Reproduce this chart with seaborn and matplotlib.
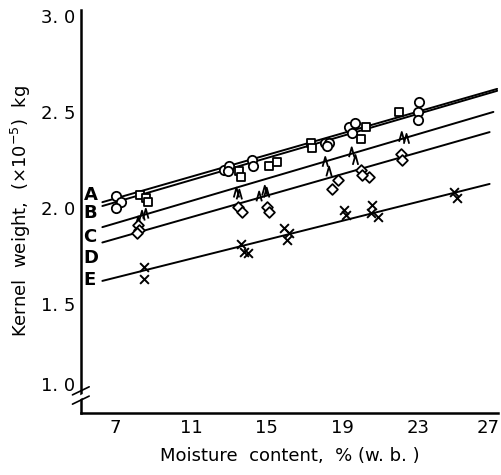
import numpy as np
import pandas as pd
import matplotlib
matplotlib.use('Agg')
import matplotlib.pyplot as plt
import matplotlib.transforms as mtransforms
import seaborn as sns

# ------------------------------------------------------------
# Data
# ------------------------------------------------------------
series_names = ["A", "B", "C", "D", "E"]

# A: circles
a_x = [7.0, 7.3, 7.0, 12.75, 13.0, 12.95, 14.2, 14.3, 18.1, 18.3, 18.2, 19.35, 19.65, 19.5, 23.05, 23.0, 23.0]
a_y = [2.06, 2.03, 2.00, 2.20, 2.22, 2.19, 2.25, 2.22, 2.34, 2.34, 2.32, 2.42, 2.44, 2.39, 2.55, 2.50, 2.46]
# B: squares
b_x = [8.3, 8.6, 8.7, 13.55, 13.65, 15.1, 15.55, 17.35, 17.4, 20.25, 20.0, 22.0]
b_y = [2.07, 2.05, 2.03, 2.19, 2.16, 2.22, 2.24, 2.34, 2.31, 2.42, 2.36, 2.50]
# C: carets
c_x = [8.4, 8.6, 8.2, 13.4, 13.55, 14.6, 14.9, 15.0, 18.1, 18.3, 19.5, 19.7, 22.15, 22.4]
c_y = [1.96, 1.97, 1.93, 2.08, 2.07, 2.06, 2.09, 2.08, 2.24, 2.19, 2.29, 2.25, 2.37, 2.36]
# D: diamonds
d_x = [8.2, 8.25, 8.15, 13.5, 13.7, 15.0, 15.1, 18.45, 18.8, 20.0, 20.4, 20.05, 22.1, 22.15]
d_y = [1.91, 1.885, 1.87, 2.005, 1.98, 2.005, 1.98, 2.10, 2.145, 2.20, 2.16, 2.17, 2.28, 2.25]
# E: crosses
e_x = [8.5, 8.5, 13.65, 13.8, 14.0, 15.9, 16.2, 16.1, 19.1, 19.2, 20.55, 20.5, 20.9, 24.9, 25.05]
e_y = [1.69, 1.63, 1.81, 1.77, 1.765, 1.895, 1.87, 1.835, 1.99, 1.965, 2.015, 1.975, 1.955, 2.085, 2.05]

# fitted lines (start / end)
line_x0 = [6.3, 6.3, 6.3, 6.3, 6.3]
line_x1 = [27.2, 27.2, 27.0, 26.8, 26.8]
line_y0 = [2.03, 2.01, 1.90, 1.82, 1.62]
line_y1 = [2.62, 2.61, 2.50, 2.395, 2.125]

# label positions on the left
label_y = [2.068, 1.974, 1.85, 1.74, 1.625]

yticks_lab = ["1. 0", "1. 5", "2. 0", "2. 5", "3. 0"]
xticks = [7, 11, 15, 19, 23, 27]

# ------------------------------------------------------------
sns.set_style('white')
plt.rcParams['font.family'] = ['DejaVu Sans']
plt.rcParams['text.color'] = 'black'
plt.rcParams['axes.labelcolor'] = 'black'
plt.rcParams['xtick.color'] = 'black'
plt.rcParams['ytick.color'] = 'black'
plt.rcParams['axes.edgecolor'] = 'black'

fig = plt.figure(figsize=(5.02, 4.75), dpi=100)
ax = fig.add_axes([0.161, 0.1305, 0.832, 0.8485])

# regression lines
for i in range(5):
    lx = pd.DataFrame({"x": [line_x0[i], line_x1[i]], "y": [line_y0[i], line_y1[i]]})
    sns.lineplot(data=lx, x="x", y="y", ax=ax, color="black", lw=1.4, zorder=2)

caret = [(-0.55, -1.0), (0.0, 1.0), (0.55, -1.0)]
markers = ["o", "s", caret, "D", "x"]
sizes = [45, 38, 50, 30, 40]
xs = [a_x, b_x, c_x, d_x, e_x]
ys = [a_y, b_y, c_y, d_y, e_y]

for i in range(5):
    df = pd.DataFrame({"x": xs[i], "y": ys[i]})
    if markers[i] == "x":
        sns.scatterplot(data=df, x="x", y="y", ax=ax, marker="x", s=sizes[i],
                        color="black", linewidth=1.4, zorder=3)
    elif i == 2:
        sns.scatterplot(data=df, x="x", y="y", ax=ax, marker=markers[i], s=sizes[i],
                        facecolor="none", edgecolor="black", linewidth=1.3, zorder=3)
    else:
        sns.scatterplot(data=df, x="x", y="y", ax=ax, marker=markers[i], s=sizes[i],
                        facecolor="white", edgecolor="black", linewidth=1.3, zorder=3)

for name, ly in zip(series_names, label_y):
    ax.text(5.3, ly, name, fontsize=13, fontweight="bold", va="center", ha="left")

ax.set_xlim(5.16, 27.27)
ax.set_ylim(0.932, 3.031)
ax.set_xticks(xticks)
ax.set_xticklabels([str(t) for t in xticks], fontsize=13)
ax.set_yticks([1.083, 1.5, 2.0, 2.5, 3.0])
ax.set_yticklabels(yticks_lab, fontsize=13)
ax.tick_params(axis="x", direction="in", length=3, width=1.2, pad=4)
ax.tick_params(axis="y", length=0, pad=4)

# keep the last x label inside the figure
last = ax.get_xticklabels()[-1]
last.set_transform(last.get_transform() + mtransforms.ScaledTranslation(-5 / 100, 0, fig.dpi_scale_trans))

sns.despine(ax=ax)
ax.spines["left"].set_linewidth(1.8)
ax.spines["bottom"].set_linewidth(1.8)

# axis break marks
ax.plot([-0.02, 0.02], [0.045, 0.065], transform=ax.transAxes, color="black", lw=1.2, clip_on=False)
ax.plot([-0.02, 0.02], [0.030, 0.050], transform=ax.transAxes, color="white", lw=2.5, clip_on=False, zorder=5)
ax.plot([-0.02, 0.02], [0.022, 0.042], transform=ax.transAxes, color="black", lw=1.2, clip_on=False, zorder=6)

ax.set_xlabel("Moisture  content,  % (w. b. )", fontsize=13)
ax.set_ylabel("Kernel  weight,  (\u00d710$^{-5}$)  kg", fontsize=13)
ax.xaxis.set_label_coords(0.5, -0.085)
ax.yaxis.set_label_coords(-0.115, 0.5)

fig.savefig("out.png", dpi=100)
